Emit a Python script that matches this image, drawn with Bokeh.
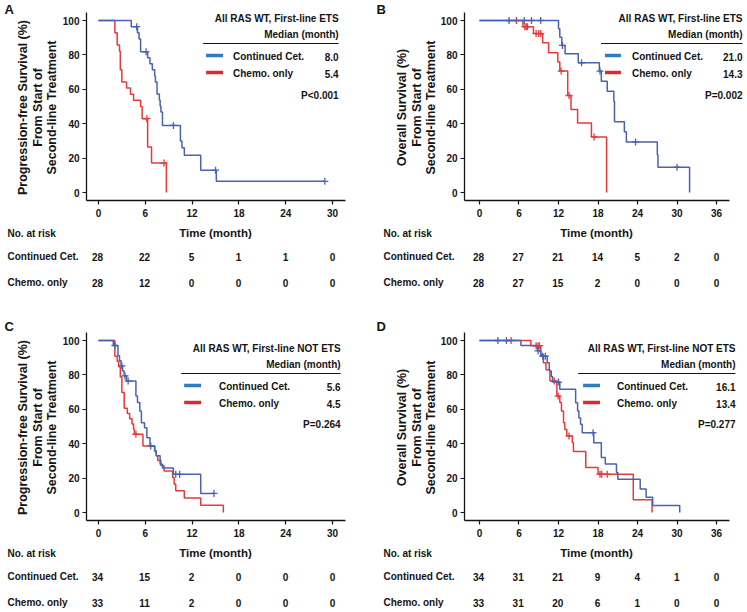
import math
from bokeh.plotting import figure
from bokeh.layouts import column, row
from bokeh.models import Range1d, FixedTicker, Label
from bokeh.embed import file_html
from bokeh.resources import INLINE

FONT = "Liberation Sans"
INK = "#141414"
BLUE = "#4a62b0"
BLUE_KEY = "#2f7cc2"
RED = "#e53a3a"
RED_KEY = "#e0282e"

# ---------------- data ----------------
# Panel A: PFS, first-line ETS
A_cet_t = [4.2, 5.0, 5.2, 5.4, 6.3, 6.6, 6.9, 7.2, 7.3, 7.5, 7.8, 7.9, 8.0, 8.2, 10.5, 10.7, 11.0, 13.1, 15.1]
A_cet_s = [96.4, 92.9, 89.3, 81.8, 78.3, 74.8, 71.3, 67.8, 64.3, 57.3, 53.8, 50.3, 46.8, 39.0, 30.0, 26.0, 21.7, 13.0, 6.5]
A_cet_cens = [4.9, 6.1, 9.6, 15.0, 29.0]
A_chemo_t = [2.1, 2.4, 2.7, 2.8, 3.0, 3.6, 4.1, 4.5, 5.4, 5.6, 6.3, 6.8, 8.7]
A_chemo_s = [92.9, 85.7, 82.1, 71.4, 64.3, 60.7, 57.1, 53.6, 50.0, 42.9, 26.4, 17.1, 0.0]
A_chemo_cens = [6.2, 8.4]
A_risk_cet = [28, 22, 5, 1, 1, 0]
A_risk_chemo = [28, 12, 0, 0, 0, 0]

# Panel B: OS, first-line ETS
B_cet_t = [12.0, 12.2, 12.5, 13.0, 15.0, 18.2, 18.5, 19.4, 20.4, 20.5, 22.0, 22.3, 27.0, 27.1, 31.9]
B_cet_s = [95.2, 90.3, 85.5, 80.6, 75.4, 70.6, 64.7, 58.8, 52.9, 41.1, 35.3, 29.4, 22.0, 14.7, 0.0]
B_cet_cens = [4.5, 6.8, 7.9, 9.3, 12.6, 15.5, 18.3, 23.7, 30.0]
B_chemo_t = [6.6, 8.2, 9.6, 10.5, 11.9, 12.2, 13.4, 13.9, 14.9, 17.0, 19.3]
B_chemo_s = [96.4, 92.4, 87.0, 81.2, 75.8, 70.6, 56.4, 48.3, 40.4, 32.3, 0.0]
B_chemo_cens = [5.6, 6.9, 7.1, 7.3, 8.6, 9.0, 9.3, 12.4, 13.6, 17.4]
B_risk_cet = [28, 27, 21, 14, 5, 2, 0]
B_risk_chemo = [28, 27, 15, 2, 0, 0, 0]

# Panel C: PFS, first-line NOT ETS
C_cet_t = [1.9, 2.5, 2.7, 2.9, 3.1, 3.3, 3.6, 4.8, 5.0, 5.3, 5.5, 5.9, 6.2, 6.6, 7.2, 7.4, 7.9, 8.2, 9.6, 13.1]
C_cet_s = [97.1, 91.2, 88.2, 85.3, 82.3, 79.4, 76.4, 67.7, 64.0, 59.0, 52.2, 49.3, 43.5, 38.7, 35.8, 33.0, 28.0, 25.9, 22.2, 11.1]
C_cet_cens = [2.1, 3.0, 3.4, 3.8, 6.7, 9.9, 10.4, 14.8]
C_chemo_t = [2.1, 2.4, 2.6, 2.8, 3.0, 3.3, 3.7, 4.0, 4.3, 4.5, 4.6, 5.7, 7.2, 7.4, 7.6, 8.0, 8.4, 9.5, 9.7, 9.9, 11.0, 13.1, 16.0]
C_chemo_s = [90.9, 87.9, 84.8, 78.8, 69.7, 60.6, 57.6, 54.5, 51.5, 48.5, 45.5, 38.7, 35.8, 33.0, 30.2, 27.3, 24.2, 20.3, 16.4, 12.6, 8.4, 4.2, 0.0]
C_chemo_cens = [4.8]
C_risk_cet = [34, 15, 2, 0, 0, 0]
C_risk_chemo = [33, 11, 2, 0, 0, 0]

# Panel D: OS, first-line NOT ETS
D_cet_t = [6.3, 8.8, 9.3, 10.3, 10.6, 10.9, 11.1, 12.2, 14.6, 14.9, 15.1, 15.35, 15.6, 17.35, 18.5, 19.1, 20.8, 21.0, 24.4, 25.3, 26.3, 30.4]
D_cet_s = [97.1, 94.0, 90.9, 87.0, 82.2, 79.0, 75.8, 71.6, 63.8, 59.0, 55.0, 51.3, 46.4, 40.6, 32.0, 28.2, 23.3, 19.4, 13.6, 8.8, 4.0, 0.0]
D_cet_cens = [2.8, 4.1, 8.9, 9.6, 10.0, 12.0, 17.25]
D_chemo_t = [7.8, 9.3, 9.7, 10.1, 10.7, 11.75, 12.2, 12.45, 12.76, 12.96, 13.26, 14.1, 14.27, 16.14, 18.0, 23.35, 26.2]
D_chemo_s = [97.0, 91.9, 87.0, 83.0, 76.4, 67.7, 64.0, 59.0, 52.2, 48.3, 44.5, 40.6, 35.4, 26.1, 22.3, 7.4, 0.0]
D_chemo_cens = [4.8, 8.6, 8.9, 9.1, 11.35, 11.95, 13.6, 18.3, 18.55, 19.4]
D_risk_cet = [34, 31, 21, 9, 4, 1, 0]
D_risk_chemo = [33, 31, 20, 6, 1, 0, 0]

ticks_pfs = [0, 6, 12, 18, 24, 30]
ticks_os = [0, 6, 12, 18, 24, 30, 36]
y_ticks = [0, 20, 40, 60, 80, 100]
series_names = ["Continued Cet.", "Chemo. only"]
title_ets = "All RAS WT, First-line ETS"
title_not = "All RAS WT, First-line NOT ETS"

PANELS = [
    dict(letter="A", side="L", rowpos="T", ytitle="Progression-free Survival (%)", title=title_ets,
         med=["8.0", "5.4"], pval="P<0.001", ticks=ticks_pfs,
         cet=(A_cet_t, A_cet_s, A_cet_cens), chemo=(A_chemo_t, A_chemo_s, A_chemo_cens),
         risk=(A_risk_cet, A_risk_chemo),
         leg=dict(right=338, title_y=18, med_y=34, rule=(202, 338, 43), sw=(205, 222), text_left=232, rows=(55, 72), p_y=95)),
    dict(letter="B", side="R", rowpos="T", ytitle="Overall Survival (%)", title=title_ets,
         med=["21.0", "14.3"], pval="P=0.002", ticks=ticks_os,
         cet=(B_cet_t, B_cet_s, B_cet_cens), chemo=(B_chemo_t, B_chemo_s, B_chemo_cens),
         risk=(B_risk_cet, B_risk_chemo),
         leg=dict(right=742, title_y=18, med_y=34, rule=(600, 742, 43), sw=(604, 620), text_left=631, rows=(55, 72), p_y=95)),
    dict(letter="C", side="L", rowpos="B", ytitle="Progression-free Survival (%)", title=title_not,
         med=["5.6", "4.5"], pval="P=0.264", ticks=ticks_pfs,
         cet=(C_cet_t, C_cet_s, C_cet_cens), chemo=(C_chemo_t, C_chemo_s, C_chemo_cens),
         risk=(C_risk_cet, C_risk_chemo),
         leg=dict(right=340, title_y=28, med_y=44, rule=(180, 340, 53), sw=(183, 200), text_left=218, rows=(65, 82), p_y=104)),
    dict(letter="D", side="R", rowpos="B", ytitle="Overall Survival (%)", title=title_not,
         med=["16.1", "13.4"], pval="P=0.277", ticks=ticks_os,
         cet=(D_cet_t, D_cet_s, D_cet_cens), chemo=(D_chemo_t, D_chemo_s, D_chemo_cens),
         risk=(D_risk_cet, D_risk_chemo),
         leg=dict(right=735, title_y=28, med_y=44, rule=(577, 735, 53), sw=(582, 599), text_left=616, rows=(65, 82), p_y=104)),
]

# geometry in reference pixels; local x = ref x - xshift
AXIS_W = 26   # width reserved for the y axis ticks + labels
SIDES = {
    "L": dict(W=372, xshift=0, lw=85 - AXIS_W, fl=85, ax_end=345, zero=97, ppm=235.0 / 30,
              ytx=(22, 37, 51), row_x=7, time_x=215, letter_x=4),
    "R": dict(W=373, xshift=372, lw=463 - 372 - AXIS_W, fl=463, ax_end=729, zero=478, ppm=238.0 / 36,
              ytx=(401, 416, 430), row_x=383, time_x=596, letter_x=376),
}
# yoff: local y = refA_y + yoff ; risk table height
ROWS = {"T": dict(yoff=0, risk_h=74, letter_y=9), "B": dict(yoff=24, risk_h=68, letter_y=6)}
BOTTOM_BORDER = 22
Y0PX, PPP = 192.0, 1.72  # refA y of 0 %, pixels per %


def surv_at(t, et, es):
    s = 100.0
    for a, b in zip(et, es):
        if a <= t:
            s = b
        else:
            break
    return s


def text_fig(w, h, bottom=0):
    f = figure(width=w, height=h, x_range=Range1d(0, w), y_range=Range1d(0, h - bottom),
               x_axis_type=None, y_axis_type=None, output_backend="svg", toolbar_location=None,
               min_border_left=0, min_border_right=0, min_border_top=0, min_border_bottom=bottom)
    f.outline_line_color = None
    f.grid.visible = False
    return f


def add_text(f, x, y, text, size="10px", align="left", angle=0.0):
    f.add_layout(Label(x=x, y=y, text=text, text_font=FONT, text_font_style="bold",
                       text_font_size=size, text_align=align, text_baseline="middle",
                       text_color=INK, angle=angle))


def build(spec):
    sd = SIDES[spec["side"]]
    rw = ROWS[spec["rowpos"]]
    W, LW, xs_ = sd["W"], sd["lw"], sd["xshift"]
    yoff = rw["yoff"]
    MW = W - LW
    fl_local = sd["fl"] - xs_ - LW
    HP = 200 + yoff + BOTTOM_BORDER        # main figure height (frame from 0 to 200+yoff)

    def dx(px):
        return (px - sd["zero"]) / sd["ppm"]

    def dy(py):
        return (Y0PX - py) / PPP

    # ---- main plot ----
    p = figure(width=MW, height=HP, x_range=Range1d(dx(sd["fl"]), dx(xs_ + W)),
               y_range=Range1d(dy(200), dy(-yoff)), output_backend="svg", toolbar_location=None,
               min_border_left=fl_local, min_border_right=0, min_border_top=0,
               min_border_bottom=BOTTOM_BORDER)
    p.outline_line_color = None
    p.grid.visible = False
    for ax in (p.xaxis[0], p.yaxis[0]):
        ax.axis_line_color = INK
        ax.axis_line_width = 1.3
        ax.major_tick_line_color = INK
        ax.major_tick_line_width = 1.2
        ax.major_tick_out = 4
        ax.major_tick_in = 0
        ax.minor_tick_line_color = None
        ax.major_label_text_font = FONT
        ax.major_label_text_font_style = "bold"
        ax.major_label_text_font_size = "10px"
        ax.major_label_text_color = INK
    p.xaxis.ticker = FixedTicker(ticks=spec["ticks"])
    p.xaxis.bounds = (dx(sd["fl"]), dx(sd["ax_end"]))
    p.yaxis.ticker = FixedTicker(ticks=y_ticks)
    p.yaxis.bounds = (dy(200), dy(12))
    p.xaxis.major_label_standoff = 4
    p.yaxis.major_label_standoff = 3

    for (et, es, cens), col in ((spec["chemo"], RED), (spec["cet"], BLUE)):
        xs = [0.0] + list(et)
        ys = [100.0] + list(es)
        end = max(cens) if cens else et[-1]
        if end > et[-1]:
            xs.append(end)
            ys.append(es[-1])
        p.step(xs, ys, mode="after", line_color=col, line_width=1.5)
        p.scatter(cens, [surv_at(c, et, es) for c in cens], marker="cross",
                  size=7, line_color=col, line_width=1.3)

    lg = spec["leg"]
    add_text(p, dx(lg["right"]), dy(lg["title_y"]), spec["title"], align="right")
    add_text(p, dx(lg["right"]), dy(lg["med_y"]), "Median (month)", align="right")
    r0, r1, ry = lg["rule"]
    p.segment(x0=[dx(r0)], y0=[dy(ry)], x1=[dx(r1)], y1=[dy(ry)], line_color=INK, line_width=1)
    for name, med, yy, kc in zip(series_names, spec["med"], lg["rows"], (BLUE_KEY, RED_KEY)):
        p.segment(x0=[dx(lg["sw"][0])], y0=[dy(yy)], x1=[dx(lg["sw"][1])], y1=[dy(yy)],
                  line_color=kc, line_width=3.5)
        add_text(p, dx(lg["text_left"]), dy(yy + 1), name)
        add_text(p, dx(lg["right"]), dy(yy + 1), med, align="right")
    add_text(p, dx(lg["right"]), dy(lg["p_y"]), spec["pval"], align="right")

    # ---- left strip: letter + y title (same borders as the main plot) ----
    lf = text_fig(LW, HP, bottom=BOTTOM_BORDER)
    FH = HP - BOTTOM_BORDER
    add_text(lf, sd["letter_x"] - xs_, FH - (rw["letter_y"] + yoff), spec["letter"], size="13px")
    for xx, txt in zip(sd["ytx"], [spec["ytitle"], "From Start of", "Second-line Treatment"]):
        add_text(lf, xx - xs_, FH - (107 + yoff), txt, size="12.5px", align="center",
                 angle=math.pi / 2)

    # ---- risk table ----
    RH = rw["risk_h"]
    rf = figure(width=W, height=RH, x_range=Range1d(dx(xs_), dx(xs_ + W)),
                y_range=Range1d(0, RH), x_axis_type=None, y_axis_type=None,
                output_backend="svg", toolbar_location=None,
                min_border_left=0, min_border_right=0, min_border_top=0, min_border_bottom=0)
    rf.outline_line_color = None
    rf.grid.visible = False
    top_ref = 200 + BOTTOM_BORDER            # refA y at the top of the risk figure

    def ry_(py):
        return RH - (py - top_ref)

    add_text(rf, dx(sd["row_x"]), ry_(233), "No. at risk")
    add_text(rf, dx(sd["time_x"]), ry_(232), "Time (month)", size="11.5px", align="center")
    for name, vals, yy in zip(series_names, spec["risk"], (256, 282)):
        add_text(rf, dx(sd["row_x"]), ry_(yy), name)
        for t, v in zip(spec["ticks"], vals):
            add_text(rf, t, ry_(yy), str(v), align="center")

    return column(row(lf, p), rf)


panels = [build(s) for s in PANELS]
layout = column(row(panels[0], panels[1]), row(panels[2], panels[3]))
open("out.html", "w").write(file_html(layout, INLINE))
